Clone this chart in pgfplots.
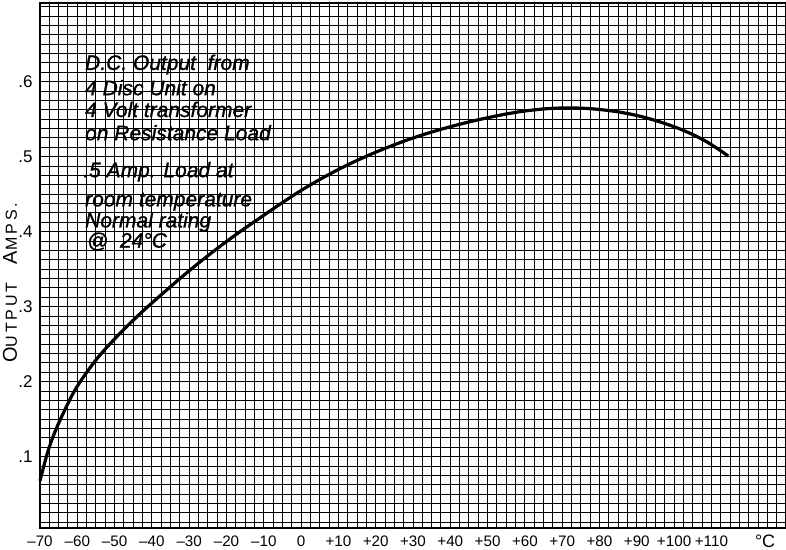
\documentclass[border=0pt]{standalone}
\usepackage{pgfplots}
\pgfplotsset{compat=1.18}
\usepackage{fontspec}
\setmainfont{Liberation Sans}
\begin{document}
\begin{tikzpicture}
\begin{axis}[
  scale only axis,
  width=373pt, height=262.5pt,
  xmin=-70, xmax=130, ymin=0.005, ymax=0.705,
  axis line style={line width=1pt},
  xtick={-70,-60,-50,-40,-30,-20,-10,0,10,20,30,40,50,60,70,80,90,100,110,120,130},
  xticklabels={–70,–60,–50,–40,–30,–20,–10,0,+10,+20,+30,+40,+50,+60,+70,+80,+90,+100,+110,,},
  minor x tick num=3,
  ytick={0,0.1,0.2,0.3,0.4,0.5,0.6,0.7},
  yticklabels={,.1,.2,.3,.4,.5,.6,},
  minor y tick num=7,
  major tick length=0pt, minor tick length=0pt,
  grid=both,
  major grid style={black, line width=0.5pt},
  minor grid style={black, line width=0.5pt},
  xticklabel style={font=\fontsize{7.6}{9}\selectfont, anchor=north, inner sep=0pt, yshift=-3.5pt},
  yticklabel style={font=\fontsize{8.5}{10}\selectfont, anchor=east, inner sep=0pt, xshift=-3.5pt},
  clip=false,
]
\addplot[black, line width=1.6pt, smooth, tension=0.6] coordinates {
(-70,0.068) (-68,0.105) (-66,0.133) (-63,0.166) (-60,0.194) (-55,0.229)
(-50,0.257) (-45,0.282) (-40,0.305) (-30,0.348) (-20,0.387) (-10,0.422)
(0,0.455) (10,0.483) (20,0.506) (30,0.525) (40,0.540) (50,0.552)
(60,0.561) (70,0.565) (80,0.563) (90,0.555) (100,0.540) (108,0.522) (114.5,0.501)
};
\begin{scope}[every node/.style={anchor=west, inner sep=0pt, font=\fontsize{10.5}{12}\selectfont\itshape\addfontfeatures{FakeBold=1}}]
\node at (axis cs:-58,0.623) {D.C. Output\ \ from};
\node at (axis cs:-58,0.592) {4 Disc Unit on};
\node at (axis cs:-58,0.563) {4 Volt transformer};
\node at (axis cs:-58,0.532) {on Resistance Load};
\node at (axis cs:-58.5,0.480) {.5 Amp. Load at};
\node at (axis cs:-58,0.440) {room temperature};
\node at (axis cs:-58,0.413) {Normal rating};
\node at (axis cs:-57.5,0.387) {@\ \ 24°C};
\end{scope}
\node[font=\fontsize{9}{10}\selectfont, anchor=center] at ([yshift=-6.5pt]axis cs:124.4,0.005) {°C};
\node[rotate=90, font=\fontsize{10}{11}\selectfont\addfontfeatures{LetterSpace=18}, anchor=center] at ([xshift=-15pt]rel axis cs:0,0.467) {O{\fontsize{8}{9}\selectfont UTPUT}\ \ A{\fontsize{8}{9}\selectfont MPS.}};
\end{axis}
\pgfresetboundingbox
\path ([shift={(-20pt,-11pt)}]current axis.south west) rectangle ([shift={(0pt,1.5pt)}]current axis.north east);
\end{tikzpicture}
\end{document}
